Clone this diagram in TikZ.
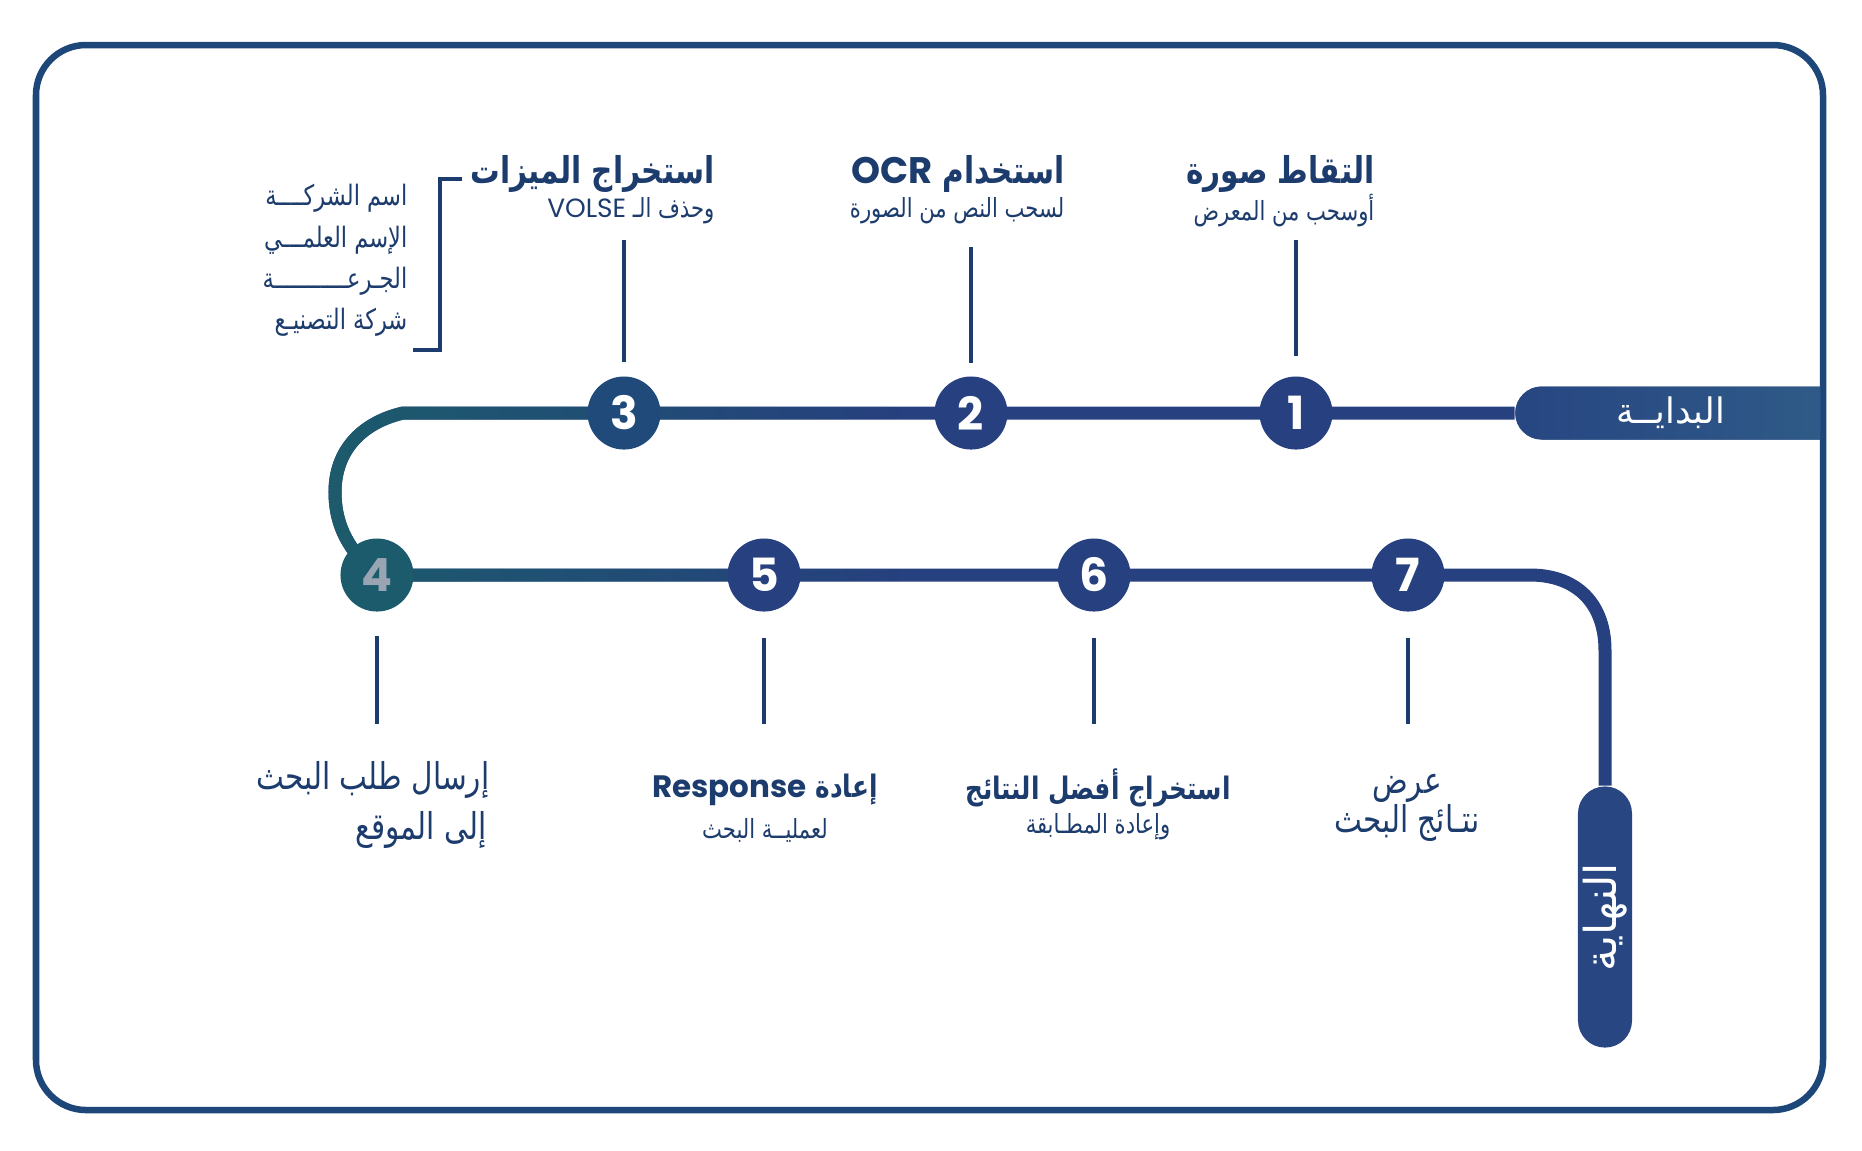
\documentclass[tikz,border=0pt]{standalone}
\usepackage{fontspec}
\setmainfont{DejaVu Sans}
\newfontfamily\arabicfont[Script=Arabic, FakeStretch=0.8]{DejaVu Sans}
\newfontfamily\arabicwide[Script=Arabic]{DejaVu Sans}
\newfontfamily\latinfont{Poppins}
\TeXXeTstate=1
\usetikzlibrary{shapes.misc, fadings, backgrounds}

\definecolor{navy}{HTML}{27407F}
\definecolor{ink}{HTML}{1D3C6E}
\definecolor{framec}{HTML}{1C4778}
\definecolor{dotthree}{HTML}{1F4A7A}
\definecolor{tealfour}{HTML}{1C5B6C}
\definecolor{grayfour}{HTML}{9AA5B4}
\definecolor{boxl}{HTML}{274682}
\definecolor{boxr}{HTML}{2F5A87}

\newcommand{\arab}[1]{{\beginR #1\endR}}
\newcommand{\latn}[1]{\beginL{\latinfont #1}\endL}

\tikzfading[name=fadeteal, left color=transparent!0, right color=transparent!100]

\begin{document}
\begin{tikzpicture}[x=0.01cm, y=-0.01cm,
      track/.style={line width=3.7pt, navy},
      stepdot/.style={circle, fill=navy, minimum size=0.73cm, inner sep=0pt,
                      text=white, font=\latinfont\bfseries\fontsize{13}{13}\selectfont},
      ttl/.style={text=ink, inner sep=0pt, font=\arabicfont\bfseries\fontsize{10.5}{12}\selectfont},
      lowttl/.style={text=ink, inner sep=0pt, font=\arabicfont\bfseries\fontsize{8.8}{10}\selectfont},
      subttl/.style={text=ink, inner sep=0pt, font=\arabicfont\fontsize{7.5}{9}\selectfont},
      bigtxt/.style={text=ink, inner sep=0pt, font=\arabicfont\fontsize{10.5}{12}\selectfont},
      itm/.style={text=ink, inner sep=0pt, anchor=east, font=\arabicfont\fontsize{8}{9}\selectfont},
      tickln/.style={ink, line width=0.9pt},
      endbox/.style={rounded rectangle, text=white, inner sep=0pt, fill=boxl}]

    \useasboundingbox (0,0) rectangle (1862,1150);

    % === start / end ===
    \node[endbox, left color=boxl, right color=boxr, rounded rectangle right arc=none,
          minimum width=3.05cm, minimum height=0.53cm,
          font=\arabicwide\fontsize{10}{12}\selectfont] (start) at (1670.5,413) {\arab{البدايــة}};
    \node[endbox, rotate=90, minimum width=2.61cm, minimum height=0.54cm,
          font=\arabicwide\fontsize{12.5}{14}\selectfont] (finish) at (1605,917) {\arab{النهاية}};

    % === stations ===
    \node[stepdot] (s1) at (1296,413) {1};
    \node[stepdot] (s2) at (971,413) {2};
    \node[stepdot, fill=dotthree] (s3) at (624,413) {3};
    \node[stepdot, fill=tealfour, text=grayfour] (s4) at (377,575) {4};
    \node[stepdot] (s5) at (764,575) {5};
    \node[stepdot] (s6) at (1094,575) {6};
    \node[stepdot] (s7) at (1408,575) {7};

    \coordinate (tl) at (403,413);
    \coordinate (lm) at (335,492);
    \coordinate (tf) at (900,413);
    \coordinate (bf) at (900,575);
    \coordinate (br) at (1530,575);
    \coordinate (bd) at (1605,650);

    \begin{scope}[on background layer]
      \fill[white] (0,0) rectangle (1862,1150);
      % outer frame
      \draw[framec, line width=1.85pt, rounded corners=0.5cm] (36,45) rectangle (1823,1110);
      \draw[track] (start.west) -- (s1.center) -- (s2.center) -- (s3.center) -- (tl)
        .. controls (360,423) and (335,452) .. (lm)
        .. controls (335,527) and (350,552) .. (s4.center)
        -- (s5.center) -- (s6.center) -- (s7.center) -- (br)
        .. controls (1577,575) and (1605,604) .. (bd) -- (finish.east);
      \draw[track, tealfour, path fading=fadeteal] (tf) -- (s3.center) -- (tl)
        .. controls (360,423) and (335,452) .. (lm)
        .. controls (335,527) and (350,552) .. (s4.center) -- (bf);
    \end{scope}

    % === top labels ===
    \node[ttl, anchor=east] (t1) at (1375,174) {\arab{التقاط صورة}};
    \node[subttl, anchor=east] (u1) at (1375,211) {\arab{أوسحب من المعرض}};
    \node[ttl, anchor=east] (t2) at (1065,174) {\arab{استخدام \latn{OCR}}};
    \node[subttl, anchor=east] (u2) at (1065,211) {\arab{لسحب النص من الصورة}};
    \node[ttl, anchor=east] (t3) at (715,174) {\arab{استخراج الميزات}};
    \node[subttl, anchor=east] (u3) at (715,211) {\arab{وحذف الـ \latn{VOLSE}}};

    \draw[tickln] ([yshift=0.2cm]s1.north) -- ([yshift=1.36cm]s1.north);
    \draw[tickln] ([yshift=0.13cm]s2.north) -- ([yshift=1.29cm]s2.north);
    \draw[tickln] ([yshift=0.14cm]s3.north) -- ([yshift=1.36cm]s3.north);

    % feature list
    \draw[tickln] (462,179) -- (440,179) -- (440,350) -- (413,350);
    \node[itm] (f1) at (408,198) {\arab{اسم الشركــــة}};
    \node[itm] (f2) at (408,240) {\arab{الإسم العلمـــي}};
    \node[itm] (f3) at (408,281) {\arab{الجـرعـــــــــــة}};
    \node[itm] (f4) at (408,322) {\arab{شركة التصنيـع}};

    % === bottom labels ===
    \draw[tickln] ([yshift=-0.235cm]s4.south) -- ([yshift=-1.115cm]s4.south);
    \draw[tickln] ([yshift=-0.255cm]s5.south) -- ([yshift=-1.115cm]s5.south);
    \draw[tickln] ([yshift=-0.255cm]s6.south) -- ([yshift=-1.115cm]s6.south);
    \draw[tickln] ([yshift=-0.255cm]s7.south) -- ([yshift=-1.115cm]s7.south);

    \node[bigtxt, anchor=east] (t4) at (490,780) {\arab{إرسال طلب البحث}};
    \node[bigtxt, anchor=east] (u4) at (487,830) {\arab{إلى الموقع}};
    \node[lowttl] (t5) at (765,790) {\arab{إعادة \latn{Response}}};
    \node[subttl] (u5) at (765,830) {\arab{لعمليــة البحث}};
    \node[lowttl] (t6) at (1098,788) {\arab{استخراج أفضل النتائج}};
    \node[subttl] (u6) at (1098,827) {\arab{وإعادة المطـابقة}};
    \node[bigtxt] (t7) at (1407,788) {\arab{عرض}};
    \node[bigtxt] (u7) at (1407,823) {\arab{نتـائج البحث}};

\end{tikzpicture}
\end{document}
